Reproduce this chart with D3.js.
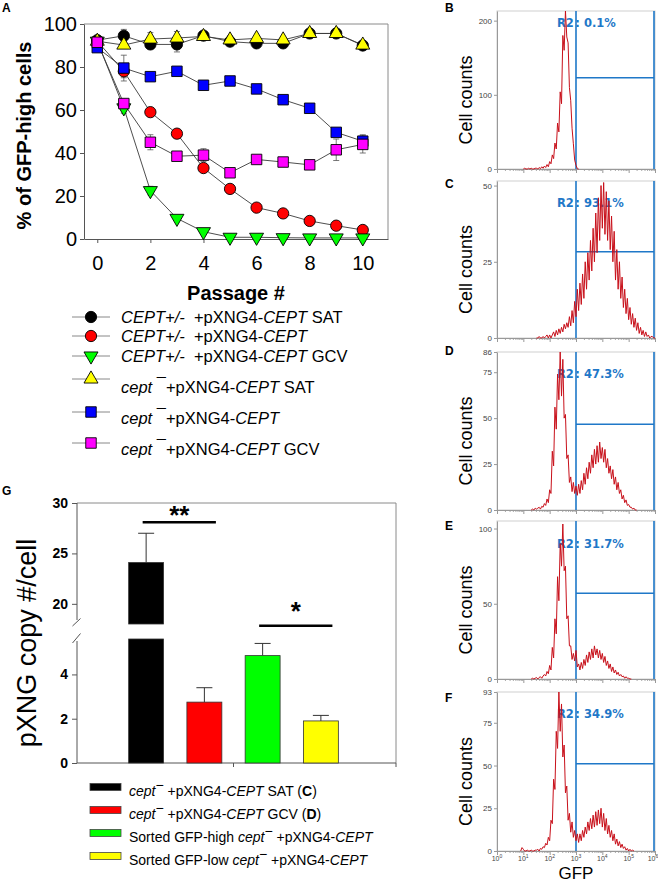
<!DOCTYPE html>
<html>
<head>
<meta charset="utf-8">
<script src="https://cdn.jsdelivr.net/npm/d3@7"></script>
<style>
  body { margin: 0; background: #fff; }
  svg { display: block; font-family: "Liberation Sans", Arial, sans-serif; }
  text { white-space: pre; }
</style>
</head>
<body>
<svg id="fig" width="658" height="884"></svg>
<script>
// ---- panel A : % of GFP-high cells over passages ----
const passages = [0, 1, 2, 3, 4, 5, 6, 7, 8, 9, 10];
const passTicks = [0, 2, 4, 6, 8, 10];
const pctTicks = [0, 20, 40, 60, 80, 100];

const hetSat = [92.5, 94.5, 90.5, 90.5, 94.6, 91.8, 91, 91, 95.6, 95.6, 90];
const hetSatErr = [1, 3, 1, 3.5, 1.5, 1, 1, 1, 1, 1, 1];
const hetNone = [92, 78, 59, 49, 33, 23.3, 14.6, 11.9, 8.4, 6.2, 4.2];
const hetNoneErr = [1, 3, 1, 1, 1, 1, 1, 1, 1, 1, 1];
const hetGcv = [92, 61, 22.5, 9.6, 3.4, 0.8, 0.8, 0.6, 0.5, 0.5, 0.5];
const hetGcvErr = [1, 2.5, 2, 1, 1, 0.5, 0.5, 0.3, 0.3, 0.3, 0.3];
const nullSat = [92, 90.2, 93, 93.5, 94.2, 92.6, 93.3, 92.6, 95.6, 95.6, 90.2];
const nullSatErr = [1, 1, 3, 3, 1, 2, 1, 1, 1, 1, 1];
const nullNone = [89, 79.5, 75.5, 78, 71.5, 73.5, 69.8, 64.8, 60.8, 49.6, 45.5];
const nullNoneErr = [1, 6, 1.5, 1, 1, 1, 1, 2, 1, 1.5, 3];
const nullGcv = [91.5, 63, 45, 38.5, 39, 30.8, 37, 35.8, 34.5, 41.5, 44];
const nullGcvErr = [1, 2, 3.5, 1.5, 3, 1, 1, 1, 2, 5, 4];

// ---- panel G : plasmid copy number ----
const copyCats = ['sat', 'gcv', 'high', 'low'];
const copyMean = [24.1, 2.75, 4.85, 1.9];
const copyErr = [2.9, 0.65, 0.55, 0.25];
const copyColors = ['#000000', '#ff0000', '#00ff00', '#ffff00'];
const upperTicks = [20, 25, 30];
const lowerTicks = [0, 2, 4];
const sigText = ['**', '*'];
const sigLevel = [28.1, 6.2];

// ---- panels B-F : flow histograms (counts every 0.05 log10 GFP) ----
const flowStep = 0.05;
const flowStart = [1.0, 1.5, 1.3, 1.3, 0.9];
const flowB = [0, 1, 0, 0, 1, 0, 1, 0, 0, 1,
  1, 0, 2, 0.5, 3, 1, 4, 2, 6, 3,
  10, 7, 19, 14, 35, 27, 62, 50, 104, 88,
  180, 160, 213, 178, 170, 110, 92, 55, 34, 12,
  5, 0.5, 0];
const flowC = [0, 0, 0.5, 0, 0, 0.5, 0, 0.5, 1, 0,
  1, 0, 1, 2, 0.5, 2.5, 1, 3, 1.5, 3.5,
  2, 4.5, 3, 5, 3.5, 7, 4, 9, 5, 12,
  7, 16, 9, 18, 11, 21, 13, 25, 16, 28,
  19, 32, 22, 36, 25, 41, 28, 46, 32, 50,
  36, 51, 34, 48, 32, 45, 29, 40, 25, 35,
  19, 29, 16, 25, 13, 20, 10, 16, 8, 13,
  6, 10, 4.5, 8, 3.5, 6.5, 2.5, 5, 1.5, 3.5,
  1, 2.5, 0.5, 2, 0.5, 1, 0, 0.5, 0.5, 0,
  0];
const flowD = [0, 0.5, 0, 1, 0.5, 1, 1.5, 0.5, 2, 1.5,
  3.5, 2.5, 6, 4, 11, 9, 32, 24, 56, 44,
  74, 60, 86, 62, 82, 50, 52, 28, 30, 15,
  18, 10, 15, 9, 13, 8, 14, 9, 16, 11,
  20, 14, 23, 17, 26, 20, 30, 23, 33, 25,
  35, 26, 37, 28, 34, 26, 33, 23, 28, 20,
  24, 17, 22, 14, 18, 11, 15, 9, 11, 6,
  8, 4, 5.5, 2.5, 3, 1.5, 1.5, 0.5, 1, 0,
  0];
const flowE = [0, 0.5, 0, 0.5, 1, 0, 1, 1.5, 0.5, 2,
  3, 2, 5, 3.5, 9, 6, 21, 14, 40, 30,
  68, 52, 90, 75, 103, 72, 75, 40, 42, 22,
  22, 13, 17, 12, 19, 8, 10, 6, 11, 7,
  13, 9, 16, 11, 18, 13, 20, 14, 22, 16,
  20, 14, 19, 13, 17, 11, 15, 9, 12, 7,
  10, 5, 8, 4, 6, 3, 4.5, 2, 3, 1.5,
  2, 0.5, 1.5, 0.5, 0.5, 0,
  0];
const flowF = [0, 2, 1, 0, 0, 0.5, 0, 0, 0.5, 0,
  0, 0.5, 0.5, 1, 0, 1.5, 1, 2.5, 2, 4.5,
  3.5, 8, 6, 18, 16, 42, 36, 70, 60, 93,
  70, 86, 55, 62, 34, 38, 18, 22, 11, 17,
  8, 12, 6, 10, 5, 10, 6, 12, 8, 14,
  10, 17, 12, 19, 13, 21, 14, 23, 15, 24,
  16, 25, 14, 22, 12, 19, 10, 15, 8, 12,
  6, 10, 4, 7, 3, 5.5, 2, 4, 1.5, 2.5,
  0.5, 1.5, 0, 1, 0, 0.5, 0];
const flowMax = [213, 51.5, 86, 105, 93];
const flowTicks = [[0, 100, 200], [0, 25, 50], [0, 25, 50, 75, 86], [0, 50, 100], [0, 25, 50, 75, 93]];
const flowGate = [123, 28.3, 46.7, 57, 51];
const flowPct = ['0.1%', '93.1%', '47.3%', '31.7%', '34.9%'];
const flowLetters = ['B', 'C', 'D', 'E', 'F'];
const gfpDecades = [0, 1, 2, 3, 4, 5, 6];
const gateLow = 1e3;
const gateHigh = 1e6;

const svg = d3.select('#fig');
const BLUE = '#1f78c8';

function styleAxis(g, size, col) {
  g.attr('font-family', null).attr('font-size', size);
  g.select('.domain').attr('stroke', col);
  g.selectAll('.tick line').attr('stroke', col);
  g.selectAll('.tick text').attr('fill', '#000');
}

// text with italic / bold / superscript pieces
function rich(sel, x, y, parts, size) {
  const t = sel.append('text').attr('x', x).attr('y', y).attr('font-size', size);
  let up = 0;
  parts.forEach(([s, k]) => {
    const ts = t.append('tspan').text(s);
    if (k.includes('i')) ts.attr('font-style', 'italic');
    if (k.includes('b')) ts.attr('font-weight', 'bold');
    const want = k.includes('s') ? size * 0.4 : (k.includes('h') ? 3 : 0);
    if (want !== up) { ts.attr('dy', up - want); up = want; }
  });
  return t;
}

function symbolPath(shape) {
  if (shape === 'circle') return d3.symbol(d3.symbolCircle, 100)();
  if (shape === 'square') return d3.symbol(d3.symbolSquare, 110)();
  return d3.symbol(d3.symbolTriangle, 85)();
}

//========== panel A ==========
const ax = d3.scaleLinear().domain([-0.5, 10.95]).range([84, 388]);
const ay = d3.scaleLinear().domain([0, 100]).range([239, 24]);
const gA = svg.append('g');

gA.append('path')
  .attr('d', `M${ax.range()[0]},${ay(100)}H${ax.range()[1]}V${ay(0)}`)
  .attr('fill', 'none').attr('stroke', '#8a8a8a');

gA.append('g')
  .attr('transform', `translate(0,${ay(0)})`)
  .call(d3.axisBottom(ax).tickValues(passTicks).tickSize(4).tickPadding(13).tickSizeOuter(0))
  .call(styleAxis, 20, '#555');
gA.append('g')
  .attr('transform', `translate(${ax.range()[0]},0)`)
  .call(d3.axisLeft(ay).tickValues(pctTicks).tickSize(4).tickPadding(3).tickSizeOuter(0))
  .call(styleAxis, 20, '#555');

gA.append('text')
  .attr('transform', `translate(31,${(ay(0) + ay(100)) / 2 + 4}) rotate(-90)`)
  .attr('text-anchor', 'middle').attr('font-size', 20).attr('font-weight', 'bold')
  .text('% of GFP-high cells');
gA.append('text')
  .attr('x', (ax.range()[0] + ax.range()[1]) / 2).attr('y', 300)
  .attr('text-anchor', 'middle').attr('font-size', 20).attr('font-weight', 'bold')
  .text('Passage #');
svg.append('text').attr('x', 2).attr('y', 12).attr('font-size', 12).attr('font-weight', 'bold').text('A');

const seriesA = [
  {v: hetSat, e: hetSatErr, fill: '#000000', shape: 'circle',
   label: [['CEPT+/-', 'i'], ['  +pXNG4-', ''], ['CEPT', 'i'], [' SAT', '']]},
  {v: hetNone, e: hetNoneErr, fill: '#ff0000', shape: 'circle',
   label: [['CEPT+/-', 'i'], ['  +pXNG4-', ''], ['CEPT', 'i']]},
  {v: hetGcv, e: hetGcvErr, fill: '#00ff00', shape: 'down',
   label: [['CEPT+/-', 'i'], ['  +pXNG4-', ''], ['CEPT', 'i'], [' GCV', '']]},
  {v: nullSat, e: nullSatErr, fill: '#ffff00', shape: 'up',
   label: [['cept', 'i'], [' ', ''], ['\u00AF', 'h'], ['+pXNG4-', ''], ['CEPT', 'i'], [' SAT', '']]},
  {v: nullNone, e: nullNoneErr, fill: '#0000ff', shape: 'square',
   label: [['cept', 'i'], [' ', ''], ['\u00AF', 'h'], ['+pXNG4-', ''], ['CEPT', 'i']]},
  {v: nullGcv, e: nullGcvErr, fill: '#ff00ff', shape: 'square',
   label: [['cept', 'i'], [' ', ''], ['\u00AF', 'h'], ['+pXNG4-', ''], ['CEPT', 'i'], [' GCV', '']]}
];

const lineA = d3.line().x((d, i) => ax(passages[i])).y(d => ay(d));
seriesA.forEach(s => {
  gA.append('path').attr('d', lineA(s.v)).attr('fill', 'none')
    .attr('stroke', '#3a3a3a').attr('stroke-width', 0.9);
});
seriesA.forEach(s => {
  s.v.forEach((v, i) => {
    const x = ax(passages[i]);
    gA.append('path')
      .attr('d', `M${x - 3},${ay(v + s.e[i])}H${x + 3}M${x},${ay(v + s.e[i])}V${ay(v - s.e[i])}M${x - 3},${ay(v - s.e[i])}H${x + 3}`)
      .attr('stroke', '#555').attr('stroke-width', 0.8).attr('fill', 'none');
  });
});
seriesA.forEach(s => {
  gA.selectAll(null).data(s.v).enter().append('path')
    .attr('d', symbolPath(s.shape))
    .attr('transform', (d, i) => `translate(${ax(passages[i])},${ay(d)})` + (s.shape === 'down' ? ' rotate(180)' : ''))
    .attr('fill', s.fill).attr('stroke', '#000').attr('stroke-width', 0.9);
});

// legend A
const legMarkY = [317, 336, 356, 379, 412, 443];
const legTextY = [323, 342, 362, 393, 424, 455];
seriesA.forEach((s, i) => {
  gA.append('line').attr('x1', 72).attr('x2', 110).attr('y1', legMarkY[i]).attr('y2', legMarkY[i])
    .attr('stroke', '#888').attr('stroke-width', 1);
  gA.append('path').attr('d', symbolPath(s.shape))
    .attr('transform', `translate(91,${legMarkY[i]})` + (s.shape === 'down' ? ' rotate(180)' : ''))
    .attr('fill', s.fill).attr('stroke', '#000').attr('stroke-width', 0.9);
  rich(gA, 121, legTextY[i], s.label, 16.5);
});

//========== panel G ==========
const gG = svg.append('g');
const gLeft = 77, gRight = 396, gBase = 763;
const gx = d3.scaleBand().domain(copyCats).range([117, 350]).paddingInner(0.4).paddingOuter(0.2);
const gyU = d3.scaleLinear().domain([18, 30]).range([624, 503]);
const gyL = d3.scaleLinear().domain([0, 5.6]).range([gBase, 639]);

gG.append('path')
  .attr('d', `M${gLeft},${gyU(30)}H${gRight}V${gBase}`)
  .attr('fill', 'none').attr('stroke', '#8a8a8a');
// broken y axis
gG.append('g').attr('transform', `translate(${gLeft},0)`)
  .call(d3.axisLeft(gyU).tickValues(upperTicks).tickFormat(d3.format('d')).tickSize(5).tickPadding(4).tickSizeOuter(0))
  .call(styleAxis, 14, '#555')
  .call(g => g.select('.domain').remove())
  .selectAll('.tick text').attr('font-weight', 'bold');
gG.append('g').attr('transform', `translate(${gLeft},0)`)
  .call(d3.axisLeft(gyL).tickValues(lowerTicks).tickFormat(d3.format('d')).tickSize(5).tickPadding(4).tickSizeOuter(0))
  .call(styleAxis, 14, '#555')
  .call(g => g.select('.domain').remove())
  .selectAll('.tick text').attr('font-weight', 'bold');
gG.append('line').attr('x1', gLeft).attr('x2', gLeft).attr('y1', gyU(30)).attr('y2', 620).attr('stroke', '#555');
gG.append('line').attr('x1', gLeft).attr('x2', gLeft).attr('y1', 641).attr('y2', gBase).attr('stroke', '#555');
gG.append('path').attr('d', 'M72.5,626L80.5,618.5M72.5,643L80.5,633.5').attr('stroke', '#555').attr('fill', 'none');
// x axis
const midTick = (gx('gcv') + gx.bandwidth() + gx('high')) / 2;
gG.append('path')
  .attr('d', `M${gLeft},${gBase}H${gRight}M${midTick},${gBase}v4M${gRight},${gBase}v4`)
  .attr('stroke', '#555').attr('fill', 'none');

copyCats.forEach((c, i) => {
  const x = gx(c), w = gx.bandwidth(), m = copyMean[i];
  const cx = x + w / 2;
  if (m > gyL.domain()[1]) {
    gG.append('rect').attr('x', x).attr('width', w).attr('y', gyL(gyL.domain()[1])).attr('height', gBase - gyL(gyL.domain()[1]))
      .attr('fill', copyColors[i]).attr('stroke', '#333').attr('stroke-width', 0.8);
    gG.append('rect').attr('x', x).attr('width', w).attr('y', gyU(m)).attr('height', gyU(18) - gyU(m))
      .attr('fill', copyColors[i]).attr('stroke', '#333').attr('stroke-width', 0.8);
    gG.append('path').attr('d', `M${cx},${gyU(m)}V${gyU(m + copyErr[i])}M${cx - 8},${gyU(m + copyErr[i])}H${cx + 8}`)
      .attr('stroke', '#333').attr('fill', 'none');
  } else {
    gG.append('rect').attr('x', x).attr('width', w).attr('y', gyL(m)).attr('height', gBase - gyL(m))
      .attr('fill', copyColors[i]).attr('stroke', '#333').attr('stroke-width', 0.8);
    gG.append('path').attr('d', `M${cx},${gyL(m)}V${gyL(m + copyErr[i])}M${cx - 8},${gyL(m + copyErr[i])}H${cx + 8}`)
      .attr('stroke', '#333').attr('fill', 'none');
  }
});

// significance bars
[[copyCats[0], copyCats[1], gyU(sigLevel[0])], [copyCats[2], copyCats[3], gyL(sigLevel[1])]].forEach(([a, b, y], i) => {
  const x1 = gx(a) + 14, x2 = gx(b) + 29;
  gG.append('line').attr('x1', x1).attr('x2', x2).attr('y1', y).attr('y2', y).attr('stroke', '#000').attr('stroke-width', 2.5);
  gG.append('text').attr('x', (x1 + x2) / 2).attr('y', y + 6 - (i ? 12 : 4)).attr('text-anchor', 'middle')
    .attr('font-size', 26).attr('font-weight', 'bold').text(sigText[i]);
});

gG.append('text')
  .attr('transform', `translate(36,${643}) rotate(-90)`)
  .attr('text-anchor', 'middle').attr('font-size', 27).text('pXNG copy #/cell');
svg.append('text').attr('x', 2).attr('y', 495).attr('font-size', 12).attr('font-weight', 'bold').text('G');

// legend G
const legG = [
  [['cept', 'i'], ['\u2212', 's'], [' +pXNG4-', ''], ['CEPT', 'i'], [' SAT (', ''], ['C', 'b'], [')', '']],
  [['cept', 'i'], ['\u2212', 's'], [' +pXNG4-', ''], ['CEPT', 'i'], [' GCV (', ''], ['D', 'b'], [')', '']],
  [['Sorted GFP-high ', ''], ['cept', 'i'], ['\u2212', 's'], [' +pXNG4-', ''], ['CEPT', 'i']],
  [['Sorted GFP-low ', ''], ['cept', 'i'], ['\u2212', 's'], [' +pXNG4-', ''], ['CEPT', 'i']]
];
const legGY = [783.5, 806.5, 829.5, 852.5];
legG.forEach((parts, i) => {
  gG.append('rect').attr('x', 90).attr('y', legGY[i]).attr('width', 31).attr('height', 7)
    .attr('fill', copyColors[i]).attr('stroke', '#444').attr('stroke-width', 0.8);
  rich(gG, 129, legGY[i] + 12.5, parts, 14);
});

//========== panels B-F ==========
const fx = d3.scaleLog().domain([1, 1e6]).range([497, 655]);
const flowTop = [11, 181, 352, 521, 692];
const flowBottom = [169, 338, 510, 679, 851];
const flowLetterY = [12, 188, 355, 530, 702];
const flowPctDy = [16, 26, 26, 27, 26];
const flowData = [flowB, flowC, flowD, flowE, flowF];

flowData.forEach((counts, p) => {
  const g = svg.append('g');
  const fy = d3.scaleLinear().domain([0, flowMax[p]]).range([flowBottom[p], flowTop[p]]);
  g.append('rect').attr('x', fx(1)).attr('y', flowTop[p]).attr('width', fx(1e6) - fx(1))
    .attr('height', flowBottom[p] - flowTop[p]).attr('fill', 'none').attr('stroke', '#cfcfcf');
  g.append('g').attr('transform', `translate(${fx(1)},0)`)
    .call(d3.axisLeft(fy).tickValues(flowTicks[p]).tickSize(3).tickPadding(2).tickSizeOuter(0))
    .call(styleAxis, 8, '#999')
    .selectAll('.tick text').attr('fill', '#444');
  // log x axis with minor ticks
  const minor = [];
  gfpDecades.slice(0, -1).forEach(k => { for (let m = 2; m < 10; m++) minor.push(m * Math.pow(10, k)); });
  g.append('g').attr('transform', `translate(0,${flowBottom[p]})`)
    .call(d3.axisBottom(fx).tickValues(minor).tickSize(2).tickFormat('').tickSizeOuter(0))
    .call(styleAxis, 8, '#aaa');
  g.append('g').attr('transform', `translate(0,${flowBottom[p]})`)
    .call(d3.axisBottom(fx).tickValues(gfpDecades.map(k => Math.pow(10, k))).tickSize(4).tickFormat('').tickSizeOuter(0))
    .call(styleAxis, 8, '#999');
  if (p === flowData.length - 1) {
    gfpDecades.forEach(k => {
      const t = g.append('text').attr('x', fx(Math.pow(10, k)) - (k === 6 ? 2 : 0)).attr('y', flowBottom[p] + 10)
        .attr('text-anchor', 'middle').attr('font-size', 7).attr('fill', '#444');
      t.append('tspan').text('10');
      t.append('tspan').attr('dy', -3).attr('font-size', 5).text(k);
    });
    g.append('text').attr('x', (fx(1) + fx(1e6)) / 2).attr('y', 879)
      .attr('text-anchor', 'middle').attr('font-size', 17).text('GFP');
  }
  // gate
  g.append('path')
    .attr('d', `M${fx(gateLow)},${flowTop[p]}V${flowBottom[p]}M${fx(gateHigh) - 1},${flowTop[p]}V${flowBottom[p]}M${fx(gateLow)},${fy(flowGate[p])}H${fx(gateHigh) - 1}`)
    .attr('stroke', BLUE).attr('stroke-width', 1.6).attr('fill', 'none');
  const t = g.append('text').attr('x', 557).attr('y', flowTop[p] + flowPctDy[p])
    .attr('font-family', '"DejaVu Sans", sans-serif').attr('font-weight', 'bold').attr('font-size', 11.5)
    .attr('fill', BLUE);
  t.append('tspan').text('R2');
  t.append('tspan').attr('dx', 1.5).text(': ' + flowPct[p]);
  // histogram trace
  const line = d3.line()
    .x((d, i) => fx(Math.pow(10, flowStart[p] + i * flowStep)))
    .y(d => fy(d));
  g.append('path').attr('d', line(counts)).attr('fill', 'none')
    .attr('stroke', '#c8101a').attr('stroke-width', 1).attr('stroke-linejoin', 'miter');
  g.append('text')
    .attr('transform', `translate(472,${(flowTop[p] + flowBottom[p]) / 2 + 10}) rotate(-90)`)
    .attr('text-anchor', 'middle').attr('font-size', 18).text('Cell counts');
  svg.append('text').attr('x', 445).attr('y', flowLetterY[p]).attr('font-size', 12)
    .attr('font-weight', 'bold').text(flowLetters[p]);
});
</script>
</body>
</html>
